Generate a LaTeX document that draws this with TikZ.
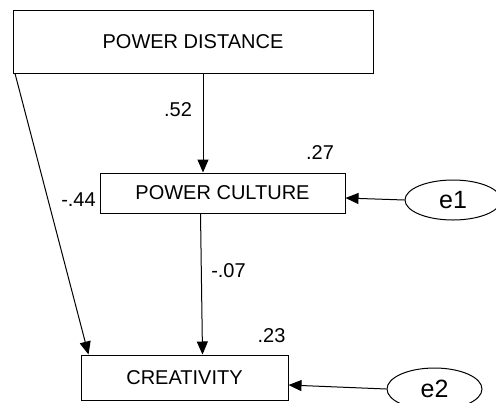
\documentclass[tikz,border=0pt]{standalone}
\usepackage{fontspec}
\setmainfont{Liberation Sans}
\usetikzlibrary{arrows.meta,shapes.geometric}
\begin{document}
\begin{tikzpicture}[x=0.5pt,y=-0.5pt,
  line width=0.5pt,
  var/.style={draw,rectangle,inner sep=0pt,font=\fontsize{10}{12}\selectfont},
  err/.style={draw,ellipse,inner sep=0pt,minimum width=48pt,minimum height=20pt,font=\fontsize{12.5}{14}\selectfont},
  coef/.style={inner sep=0pt,font=\fontsize{10}{12}\selectfont},
  arr/.style={-{Triangle[length=6.5pt,width=5.5pt]}}]
\useasboundingbox[fill=white] (0,0) rectangle (496,402);
% observed variables
\node[var,minimum width=180pt,minimum height=31.5pt] (pd) at (193,41.5) {POWER DISTANCE};
\node[var,minimum width=122.5pt,minimum height=20pt] (pc) at (222.5,193) {POWER CULTURE};
\node[var,minimum width=103.5pt,minimum height=22.5pt] (cr) at (184.5,377.5) {CREATIVITY};
% error terms
\node[err] (e1) at (453,200) {e1};
\node[err,minimum width=47.5pt,minimum height=21pt] (e2) at (434.5,389) {e2};
% paths
\draw[arr] (pd.south -| 203,0) -- (pc.north -| 203,0);
\draw[arr] (pc.south -| 200.5,0) -- (cr.north -| 202.5,0);
\draw[arr] (pd.south -| 15,0) -- (cr.north -| 88.5,0);
\draw[arr] (e1.west) -- ([yshift=-2.5pt]pc.east);
\draw[arr] (e2.west) -- ([yshift=-3.75pt]cr.east);
% coefficients
\node[coef] (c52) at (178,110) {.52};
\node[coef] (c27) at (320,153) {.27};
\node[coef] (c44) at (78.5,200) {-.44};
\node[coef] (c07) at (228.5,270.5) {-.07};
\node[coef] (c23) at (271.5,336) {.23};
\end{tikzpicture}
\end{document}
